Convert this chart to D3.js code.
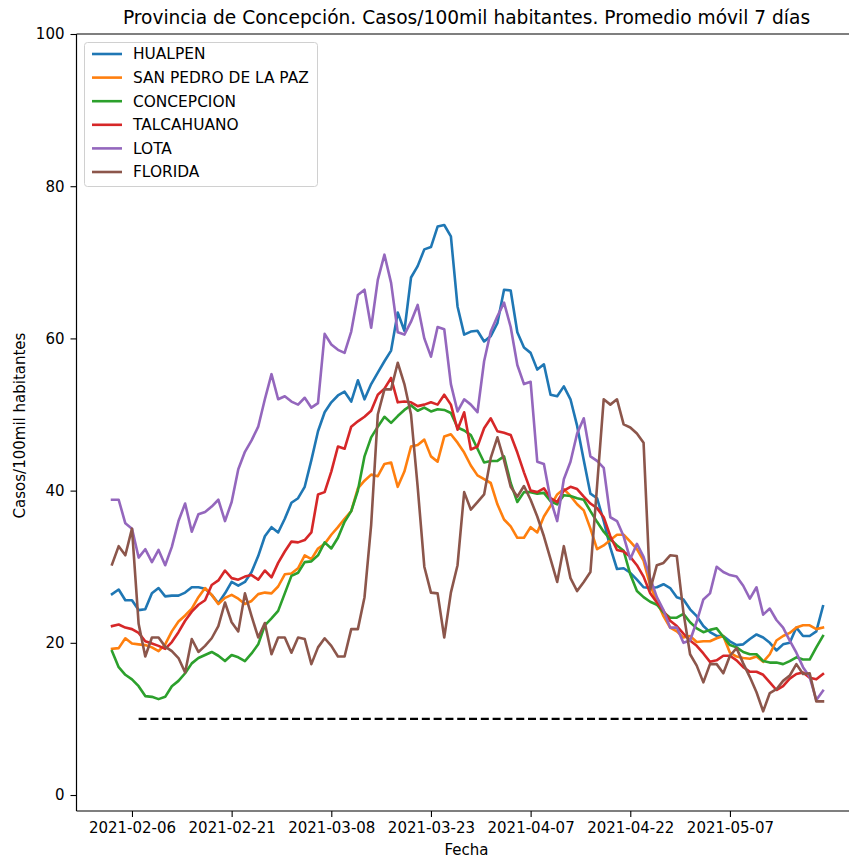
<!DOCTYPE html>
<html>
<head>
<meta charset="utf-8">
<script src="https://cdn.jsdelivr.net/npm/d3@7"></script>
<style>
  body { margin: 0; background: #fff; }
  svg { display: block; font-family: "DejaVu Sans", sans-serif; }
</style>
</head>
<body>
<svg id="chart" width="849" height="858"></svg>
<script>
// ---------------- data ----------------
const startDate = "2021-02-03";
const nDays = 108;
const tickLabels = ["2021-02-06", "2021-02-21", "2021-03-08", "2021-03-23", "2021-04-07", "2021-04-22", "2021-05-07"];
const yTicks = [0, 20, 40, 60, 80, 100];
const seriesNames = ["HUALPEN", "SAN PEDRO DE LA PAZ", "CONCEPCION", "TALCAHUANO", "LOTA", "FLORIDA"];
const seriesColors = ["#1f77b4", "#ff7f0e", "#2ca02c", "#d62728", "#9467bd", "#8c564b"];

const hualpen = [26.4, 27, 25.6, 25.6, 24.3, 24.4, 26.5, 27.2, 26.1, 26.2, 26.2, 26.6, 27.3, 27.3, 27.1, 26.3, 25.2, 26.5, 28, 27.5, 28, 29.3, 31.4, 34, 35.2, 34.5, 36.3, 38.4,
  39, 40.5, 44, 47.8, 50.3, 51.6, 52.5, 53, 51.7, 54.5, 52, 54, 55.5, 57, 58.4, 63.4, 61, 68, 69.5, 71.7, 72, 74.7, 74.9, 73.4, 64.2, 60.5, 60.9,
  61, 59.6, 60.3, 62, 66.4, 66.3, 60.8, 58.8, 58.1, 55.9, 56.6, 52.6, 52.4, 53.7, 52, 48.5, 44, 39.6, 39, 36, 32.5, 29.7, 29.8, 29.2, 28.3, 27.3, 27.2,
  27.3, 27.7, 27.2, 26, 25.7, 24.4, 23.5, 22.2, 21.4, 20.9, 20.9, 20.2, 19.7, 19.8, 20.5, 21.1, 20.7, 20, 19, 19.8, 20, 22, 20.9, 20.9, 21.5, 24.8];

const sanPedro = [19.2, 19.3, 20.6, 19.9, 19.8, 19.7, 19.4, 18.9, 19.8, 21.5, 22.8, 23.6, 24.5, 26, 27.2, 26.3, 25.1, 25.9, 26.3, 25.8, 25.1, 25.5, 26.4, 26.6, 26.5, 27.4, 29,
  29.1, 29.8, 31.5, 31, 32.4, 33, 34.2, 35.2, 36.3, 37.3, 40.3, 41.3, 42.1, 41.9, 43.5, 43.7, 40.5, 42.5, 45.8, 46, 46.7, 44.5, 43.8, 47.1, 47.4, 46.3, 45, 43.3,
  42, 41.5, 41, 38.2, 36.2, 35.3, 33.8, 33.8, 35.2, 34.5, 36.6, 38, 39.5, 40.2, 39.3, 38.2, 37.4, 35, 32.3, 32.8, 33.5, 34.2, 34.2, 33.3, 32.3, 30.8, 27.5,
  25.5, 23.5, 22, 21.5, 20.7, 20.9, 20.1, 20.2, 20.2, 20.6, 20.9, 18.7, 18.2, 18, 17.9, 18.2, 17.5, 18.5, 20.3, 20.9, 21.3, 22, 22.3, 22.3, 21.8, 22];

const concepcion = [18.9, 16.8, 15.8, 15.2, 14.3, 13, 12.9, 12.6, 12.9, 14.3, 15, 16, 17.3, 18, 18.4, 18.8, 18.3, 17.6, 18.4, 18.1, 17.6, 18.6, 19.8, 22.3, 23.2, 24.2, 26.5,
  28.8, 29.2, 30.6, 30.7, 31.5, 33.2, 32.4, 33.8, 35.9, 37.3, 40, 44.5, 47, 48.4, 49.7, 48.9, 49.8, 50.6, 51.2, 50.5, 50.9, 50.4, 50.7, 50.6, 50.2, 48.3, 47.9, 47.3,
  45.5, 43.7, 43.9, 43.9, 44.5, 41, 38.5, 39.8, 39.8, 39.6, 39.7, 38.6, 38.2, 39.4, 39.3, 39, 38.8, 37.3, 35.9, 34.6, 33.6, 32.8, 32.1, 29, 26.8, 26, 25.4,
  25, 24, 23.3, 23.3, 23.8, 22.7, 21.9, 21.4, 21.7, 21.9, 20.8, 19.7, 19.4, 18.8, 18.5, 18.5, 17.6, 17.4, 17.4, 17.2, 17.6, 18.1, 17.8, 17.8, 19.4, 20.9];

const talcahuano = [22.2, 22.4, 22, 21.8, 21.3, 20.2, 19.9, 19.6, 19.2, 20.1, 21.4, 22.9, 24.1, 25, 25.6, 27.6, 28.2, 29.5, 28.5, 28.3, 28.7, 28.9, 28.3, 29.5, 28.6, 30.5, 32, 33.3,
  33.2, 33.5, 34.5, 39.5, 39.8, 42.5, 45.8, 45.5, 48.4, 49.1, 49.7, 50.5, 52.6, 53.4, 54.8, 51.6, 51.7, 51.6, 51.1, 51.3, 51.6, 51.3, 52.6, 51.3, 48, 50.3, 45.4,
  45.8, 48.2, 49.5, 47.8, 47.6, 47.3, 45, 42.4, 40, 39.8, 40.3, 39, 38.5, 40, 40.5, 40.2, 39.2, 38.3, 37.7, 36.5, 34, 32.2, 32, 31.3, 30.2, 28.7, 26.5,
  25.3, 24.2, 22.9, 22.2, 21.2, 20.3, 19.6, 18.6, 17.5, 17.7, 18.3, 18.3, 17.7, 16.8, 16.2, 16.2, 15.8, 14.8, 13.8, 14.3, 15.3, 15.9, 16.1, 15.4, 15.2, 15.9];

const lota = [38.8, 38.8, 35.7, 35, 31.2, 32.3, 30.6, 32.2, 30.2, 32.6, 36, 38.3, 34.6, 36.9, 37.2, 37.9, 38.8, 36, 38.5, 42.8, 45.1, 46.6, 48.4, 52, 55.3, 52, 52.4, 51.7,
  51.3, 52.2, 50.9, 51.5, 60.6, 59.2, 58.5, 58.1, 60.9, 65.7, 66.4, 61.4, 67.7, 71, 67.3, 60.8, 60.5, 62.2, 64.4, 60, 57.6, 61.5, 61.2, 54, 50.4, 52, 51.3,
  50.3, 57, 60.9, 62.9, 64.7, 61.5, 56.5, 54, 54.3, 43.8, 43.5, 38.8, 36, 41.5, 43.8, 47.5, 49.5, 44.5, 43.9, 43, 36.5, 36, 34, 31, 33, 31.3, 28.5,
  26, 24.3, 22, 22, 20, 20.3, 22.8, 25.7, 26.5, 30, 29.3, 28.9, 28.7, 27.5, 25.8, 27.3, 23.7, 24.5, 23, 22, 20.3, 18.7, 16.8, 15.5, 12.5, 13.7];

const florida = [30.3, 32.7, 31.5, 35, 22.5, 18.2, 20.7, 20.7, 19.5, 18.9, 18, 16.1, 20.5, 18.8, 19.6, 20.6, 22.2, 25.3, 22.7, 21.5, 26.5, 23.5, 20.7, 22.6, 18.5, 20.7, 20.7, 18.7,
  20.7, 20.5, 17.2, 19.4, 20.6, 19.6, 18.2, 18.2, 21.8, 21.8, 26, 35.5, 50, 53.3, 53.3, 56.8, 54, 50, 40.5, 30, 26.6, 26.5, 20.7, 26.6, 30.2, 39.8, 37.5,
  38.5, 39.5, 44.3, 47, 44, 40.5, 39.2, 40.6, 38.8, 36.6, 34, 31, 28, 32.7, 28.5, 26.8, 28, 29.3, 40.6, 52, 51.3, 52, 48.7, 48.3, 47.5, 46.3, 27,
  30.2, 30.5, 31.5, 31.4, 24, 18.5, 17, 14.8, 17.2, 17.2, 16, 18.3, 19.3, 17.3, 15.5, 13.5, 11, 13.4, 13.9, 15, 15.7, 17.2, 15.9, 16, 12.3, 12.3];

const thresholdValue = 10;
const thresholdStart = "2021-02-07";
const thresholdEnd = "2021-05-19";

// ---------------- layout ----------------
const allSeries = [hualpen, sanPedro, concepcion, talcahuano, lota, florida];
const parse = d3.utcParse("%Y-%m-%d");
const fmt = d3.utcFormat("%Y-%m-%d");
const t0 = parse(startDate);
const dates = d3.range(nDays).map(i => d3.utcDay.offset(t0, i));

const svg = d3.select("#chart");
const W = 849, H = 858;
const plotL = 76.5, plotR = 858.5, plotT = 34, plotB = 811;

const first = dates[0], last = dates[dates.length - 1];
const span = last - first;
const x = d3.scaleUtc()
  .domain([new Date(+first - span * 0.05), new Date(+last + span * 0.05)])
  .range([plotL, plotR]);
const y = d3.scaleLinear().domain([-2.1, 100]).range([plotB, plotT]);

const font = "DejaVu Sans, sans-serif";

// lines
const line = d3.line().x((d, i) => x(dates[i])).y(d => y(d));
const g = svg.append("g");
allSeries.forEach((s, k) => {
  g.append("path").datum(s)
    .attr("d", line)
    .attr("fill", "none")
    .attr("stroke", seriesColors[k])
    .attr("stroke-width", 2.6)
    .attr("stroke-linejoin", "round")
    .attr("stroke-linecap", "square");
});

// threshold dashed line
g.append("line")
  .attr("x1", x(parse(thresholdStart))).attr("x2", x(parse(thresholdEnd)))
  .attr("y1", y(thresholdValue)).attr("y2", y(thresholdValue))
  .attr("stroke", "#000").attr("stroke-width", 2.2)
  .attr("stroke-dasharray", "8,3.8");

// axes
const yAxis = d3.axisLeft(y).tickValues(yTicks).tickSize(6).tickPadding(6).tickFormat(d3.format("d"));
const ya = svg.append("g").attr("transform", `translate(${plotL},0)`).call(yAxis);
ya.select(".domain").remove();
ya.selectAll("text").attr("font-size", 15).attr("font-family", font).attr("fill", "#000");
ya.selectAll("line").attr("stroke", "#000").attr("stroke-width", 1.1);

const xAxis = d3.axisBottom(x).tickValues(tickLabels.map(parse)).tickSize(6).tickPadding(5).tickFormat(fmt);
const xa = svg.append("g").attr("transform", `translate(0,${plotB})`).call(xAxis);
xa.select(".domain").remove();
xa.selectAll("text").attr("font-size", 15).attr("font-family", font).attr("fill", "#000");
xa.selectAll("line").attr("stroke", "#000").attr("stroke-width", 1.1);

// spines
svg.append("line").attr("x1", plotL).attr("x2", plotL).attr("y1", plotT).attr("y2", plotB).attr("stroke", "#000").attr("stroke-width", 1.2);
svg.append("line").attr("x1", plotL).attr("x2", W).attr("y1", plotB).attr("y2", plotB).attr("stroke", "#000").attr("stroke-width", 1.2);
svg.append("line").attr("x1", plotL).attr("x2", W).attr("y1", plotT).attr("y2", plotT).attr("stroke", "#000").attr("stroke-width", 1.2);

// title and labels
svg.append("text").attr("x", 466.5).attr("y", 24)
  .attr("text-anchor", "middle").attr("font-size", 18.6).attr("font-family", font).attr("fill", "#000")
  .text("Provincia de Concepción. Casos/100mil habitantes. Promedio móvil 7 días");
svg.append("text").attr("x", 466.5).attr("y", 855)
  .attr("text-anchor", "middle").attr("font-size", 15).attr("font-family", font).attr("fill", "#000")
  .text("Fecha");
svg.append("text").attr("transform", `translate(25,${(plotT + plotB) / 2 + 3}) rotate(-90)`)
  .attr("text-anchor", "middle").attr("font-size", 15).attr("font-family", font).attr("fill", "#000")
  .text("Casos/100mil habitantes");

// legend
const leg = svg.append("g");
leg.append("rect").attr("x", 84.5).attr("y", 42.5).attr("width", 233).attr("height", 144)
  .attr("rx", 3).attr("fill", "#fff").attr("fill-opacity", 0.8).attr("stroke", "#d0d0d0").attr("stroke-width", 1);
seriesNames.forEach((name, k) => {
  const yy = 54 + k * 23.6;
  leg.append("line").attr("x1", 92).attr("x2", 122).attr("y1", yy).attr("y2", yy)
    .attr("stroke", seriesColors[k]).attr("stroke-width", 2.6);
  leg.append("text").attr("x", 133).attr("y", yy + 5.3)
    .attr("font-size", 15.4).attr("font-family", font).attr("fill", "#000").text(name);
});
</script>
</body>
</html>
